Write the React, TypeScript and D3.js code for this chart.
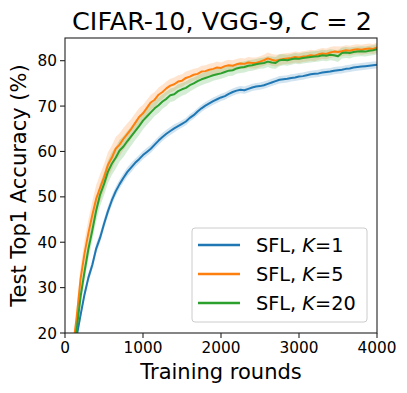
import React from "react";
import * as d3 from "d3";

const rounds: number[] = d3.range(50, 4001, 50);

const meanK1: number[] = [
  5, 12, 19.3, 24, 28.5, 32.2, 35, 38.6, 41, 44, 46.8, 49.2, 51.2, 52.8, 54.2, 55.5, 56.5, 57.5, 58.3, 59.2,
  59.9, 60.6, 61.5, 62.4, 63.2, 63.9, 64.5, 65.1, 65.6, 66.1, 66.6, 67.4, 68.0, 68.8, 69.5, 70.1, 70.6, 71.1, 71.5, 71.9,
  72.2, 72.7, 73.1, 73.4, 73.6, 73.5, 73.8, 74.1, 74.3, 74.4, 74.6, 74.9, 75.2, 75.5, 75.8, 75.9, 76.0, 76.2, 76.3, 76.5,
  76.6, 76.8, 77.0, 77.1, 77.2, 77.4, 77.5, 77.6, 77.8, 77.9, 78.0, 78.2, 78.3, 78.5, 78.6, 78.7, 78.8, 78.9, 79.0, 79.1,
];
const meanK5: number[] = [
  10, 16.5, 23.5, 32, 37.5, 42, 46, 49.6, 52, 54.3, 57, 58.6, 60.6, 61.5, 62.8, 63.9, 65, 66.3, 67.6, 68.4,
  69.6, 70.8, 71.4, 72.5, 73.1, 73.9, 74.5, 74.8, 75.4, 75.6, 76.2, 76.5, 76.9, 77.1, 77.6, 77.7, 78.0, 78.2, 78.5, 78.4,
  78.8, 79.0, 78.9, 79.2, 79.4, 79.3, 79.6, 79.5, 79.5, 79.8, 80.1, 80.5, 80.2, 80.0, 80.2, 80.4, 80.5, 80.6, 80.8, 80.7,
  80.9, 81.0, 81.2, 81.1, 81.4, 81.6, 81.5, 81.8, 82.0, 81.9, 82.1, 82.3, 82.2, 82.4, 82.5, 82.4, 82.6, 82.7, 82.6, 82.9,
];
const meanK20: number[] = [
  8, 14, 20.8, 28, 33.5, 38.5, 42.6, 47, 50.5, 52.8, 55.5, 57.3, 58.6, 60.2, 61.1, 62.3, 63.4, 64.5, 65.6, 66.8,
  67.7, 68.6, 69.5, 70.2, 71.0, 71.6, 72.4, 72.6, 73.3, 73.7, 74.0, 74.6, 75.0, 75.5, 75.9, 76.2, 76.5, 76.8, 77.0, 77.2,
  77.5, 77.8, 77.9, 78.3, 78.5, 78.6, 78.9, 79.0, 79.2, 79.4, 79.5, 79.8, 79.6, 79.5, 80.1, 80.2, 80.1, 80.3, 80.5, 80.4,
  80.6, 80.7, 80.8, 80.9, 81.0, 81.2, 81.1, 81.3, 81.2, 81.0, 81.7, 81.8, 81.7, 81.9, 82.0, 82.1, 82.0, 82.2, 82.3, 82.5,
];

const stdK1: number[] = [
  0.8, 0.8, 0.9, 0.9, 1.0, 1.0, 1.0, 1.1, 1.1, 1.1, 1.1, 1.1, 1.0, 1.0, 1.0, 1.0, 1.0, 0.9, 0.9, 0.9,
  0.9, 0.9, 0.9, 0.9, 0.9, 0.9, 0.9, 0.9, 0.8, 0.8, 0.8, 0.8, 0.8, 0.8, 0.8, 0.8, 0.8, 0.8, 0.8, 0.8,
  0.8, 0.8, 0.8, 0.8, 0.8, 0.8, 0.8, 0.8, 0.8, 0.8, 0.8, 0.8, 0.8, 0.8, 0.8, 0.8, 0.8, 0.8, 0.8, 0.8,
  0.8, 0.8, 0.8, 0.8, 0.8, 0.8, 0.8, 0.8, 0.8, 0.8, 0.8, 0.8, 0.8, 0.8, 0.8, 0.8, 0.8, 0.8, 0.8, 0.8,
];
const stdK5: number[] = [
  1.5, 1.8, 2.2, 2.6, 2.8, 3.0, 3.0, 3.0, 3.0, 2.9, 2.8, 2.7, 2.6, 2.5, 2.4, 2.3, 2.2, 2.1, 2.0, 1.9,
  1.8, 1.7, 1.7, 1.6, 1.6, 1.5, 1.5, 1.5, 1.4, 1.4, 1.4, 1.4, 1.3, 1.3, 1.3, 1.3, 1.3, 1.3, 1.3, 1.2,
  1.2, 1.2, 1.2, 1.2, 1.2, 1.2, 1.2, 1.2, 1.2, 1.2, 1.2, 1.3, 1.3, 1.3, 1.2, 1.2, 1.2, 1.2, 1.2, 1.2,
  1.2, 1.2, 1.2, 1.2, 1.2, 1.2, 1.2, 1.2, 1.2, 1.2, 1.1, 1.1, 1.1, 1.1, 1.1, 1.1, 1.1, 1.1, 1.1, 1.1,
];
const stdK20: number[] = [
  1.2, 1.4, 1.6, 1.8, 2.0, 2.2, 2.3, 2.4, 2.5, 2.5, 2.5, 2.5, 2.4, 2.4, 2.3, 2.2, 2.1, 2.0, 2.0, 1.9,
  1.8, 1.8, 1.7, 1.7, 1.6, 1.6, 1.5, 1.5, 1.5, 1.4, 1.4, 1.4, 1.3, 1.3, 1.3, 1.3, 1.3, 1.2, 1.2, 1.2,
  1.2, 1.2, 1.2, 1.2, 1.2, 1.2, 1.2, 1.2, 1.2, 1.2, 1.2, 1.2, 1.3, 1.3, 1.3, 1.2, 1.2, 1.2, 1.2, 1.2,
  1.2, 1.2, 1.2, 1.2, 1.2, 1.2, 1.2, 1.2, 1.2, 1.3, 1.2, 1.2, 1.2, 1.1, 1.1, 1.1, 1.1, 1.1, 1.1, 1.1,
];

const seriesK: string[] = ["1", "5", "20"];
const seriesColors: string[] = ["#1f77b4", "#ff7f0e", "#2ca02c"];
const xTicks: number[] = [0, 1000, 2000, 3000, 4000];
const yTicks: number[] = [20, 30, 40, 50, 60, 70, 80];

const W = 407;
const H = 393;
const L = 65, R = 377, T = 38, B = 333;
const FONT = "DejaVu Sans, sans-serif";

export default function App() {
  const x = d3.scaleLinear().domain([0, 4000]).range([L, R]);
  const y = d3.scaleLinear().domain([20, 85]).range([B, T]);
  const means = [meanK1, meanK5, meanK20];
  const stds = [stdK1, stdK5, stdK20];
  const line = d3.line<number>().x((_, i) => x(rounds[i])).y((v) => y(v));
  const bands = means.map((m, s) =>
    d3.area<number>()
      .x((_, i) => x(rounds[i]))
      .y0((v, i) => y(v - stds[s][i]))
      .y1((v, i) => y(v + stds[s][i]))(m) as string
  );
  const legendRows = [245, 274, 303];
  return (
    <svg width={W} height={H} style={{ position: "absolute", left: 0, top: 0 }} fontFamily={FONT}>
      <defs>
        <clipPath id="plotclip">
          <rect x={L} y={T} width={R - L} height={B - T} />
        </clipPath>
      </defs>
      <rect width={W} height={H} fill="white" />
      <g clipPath="url(#plotclip)">
        {bands.map((d, s) => (
          <path key={"b" + s} d={d} fill={seriesColors[s]} fillOpacity={0.2} stroke="none" />
        ))}
        {means.map((m, s) => (
          <path key={"l" + s} d={line(m) as string} fill="none" stroke={seriesColors[s]} strokeWidth={2} strokeLinejoin="round" />
        ))}
      </g>
      <rect x={L} y={T} width={R - L} height={B - T} fill="none" stroke="#222" strokeWidth={1.1} />
      {xTicks.map((t) => (
        <g key={"x" + t}>
          <line x1={x(t)} x2={x(t)} y1={B} y2={B + 5} stroke="#222" strokeWidth={1.1} />
          <text x={x(t)} y={B + 20} textAnchor="middle" fontSize={15.3} fill="black">{t}</text>
        </g>
      ))}
      {yTicks.map((t) => (
        <g key={"y" + t}>
          <line x1={L - 5} x2={L} y1={y(t)} y2={y(t)} stroke="#222" strokeWidth={1.1} />
          <text x={L - 8} y={y(t) + 5.5} textAnchor="end" fontSize={15.3} fill="black">{t}</text>
        </g>
      ))}
      <text x={(L + R) / 2} y={378.5} textAnchor="middle" fontSize={21} fill="black">Training rounds</text>
      <text transform={`translate(26,${(T + B) / 2}) rotate(-90)`} textAnchor="middle" fontSize={21} fill="black">
        Test Top1 Accuracy (%)
      </text>
      <text x={(L + R) / 2 + 1} y={29.5} textAnchor="middle" fontSize={25.5} fill="black">
        CIFAR-10, VGG-9, <tspan fontStyle="italic">C</tspan> = 2
      </text>
      <rect x={192} y={228} width={175} height={94} rx={3} fill="white" fillOpacity={0.8} stroke="#cccccc" strokeWidth={1} />
      {seriesK.map((k, s) => (
        <g key={"lg" + k}>
          <line x1={198} x2={240} y1={legendRows[s]} y2={legendRows[s]} stroke={seriesColors[s]} strokeWidth={2.5} />
          <text x={256} y={legendRows[s] + 7} fontSize={19.3} fill="black">
            SFL, <tspan fontStyle="italic">K</tspan>={k}
          </text>
        </g>
      ))}
    </svg>
  );
}
